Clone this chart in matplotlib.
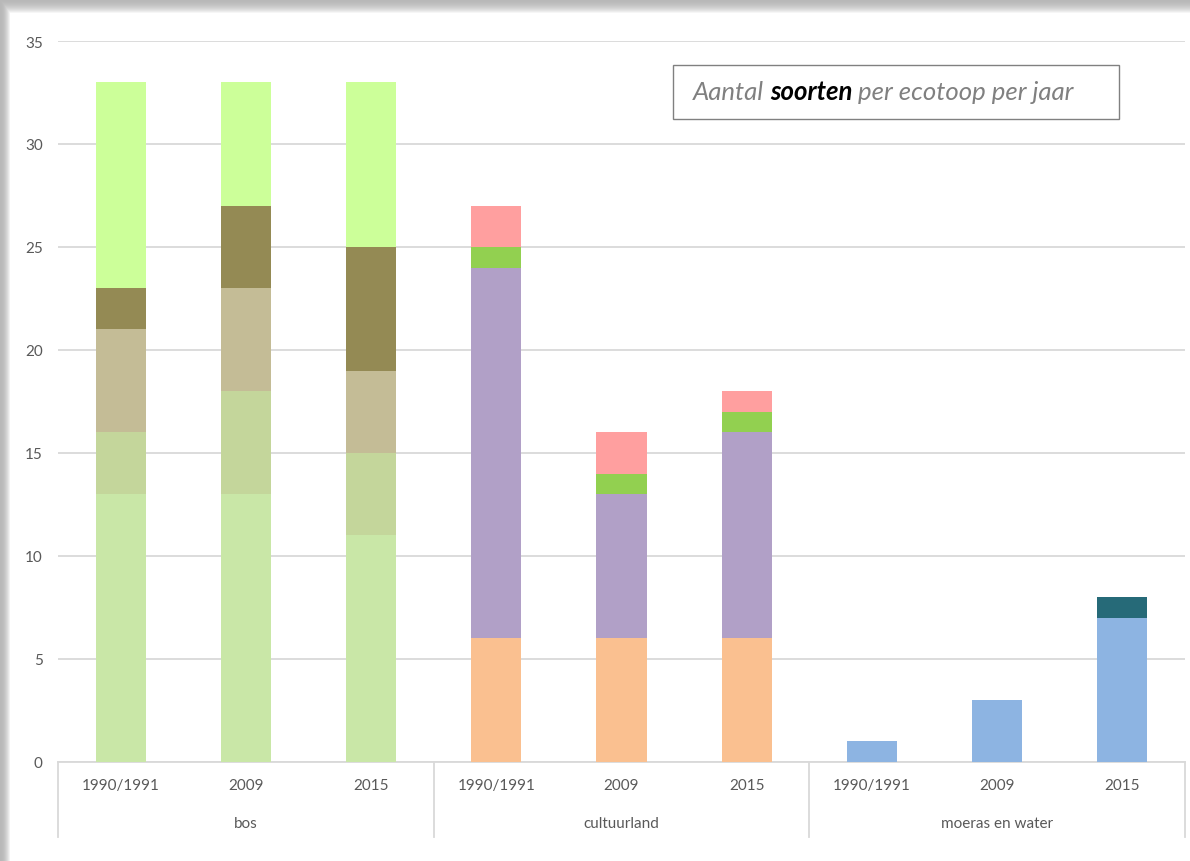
import numpy as np
import matplotlib
matplotlib.use("Agg")
from matplotlib import pyplot as plt
from matplotlib.patches import Rectangle
from matplotlib.lines import Line2D

plt.rcParams['font.family'] = ['Lato', 'DejaVu Sans']

# categories
years = ["1990/1991", "2009", "2015"] * 3
groups = ["bos", "cultuurland", "moeras en water"]

# stacked series, bottom to top (one value per bar)
bos_1 = [13, 13, 11, 0, 0, 0, 0, 0, 0]
bos_2 = [3, 5, 4, 0, 0, 0, 0, 0, 0]
bos_3 = [5, 5, 4, 0, 0, 0, 0, 0, 0]
bos_4 = [2, 4, 6, 0, 0, 0, 0, 0, 0]
bos_5 = [10, 6, 8, 0, 0, 0, 0, 0, 0]
cult_1 = [0, 0, 0, 6, 6, 6, 0, 0, 0]
cult_2 = [0, 0, 0, 18, 7, 10, 0, 0, 0]
cult_3 = [0, 0, 0, 1, 1, 1, 0, 0, 0]
cult_4 = [0, 0, 0, 2, 2, 1, 0, 0, 0]
water_1 = [0, 0, 0, 0, 0, 0, 1, 3, 7]
water_2 = [0, 0, 0, 0, 0, 0, 0, 0, 1]

series = [bos_1, bos_2, bos_3, bos_4, bos_5,
          cult_1, cult_2, cult_3, cult_4,
          water_1, water_2]
colors = ["#C9E7A7", "#C4D69B", "#C4BC96", "#948A54", "#CCFF99",
          "#FAC090", "#B1A0C7", "#92D050", "#FF9F9F",
          "#8DB4E2", "#266A78"]

W, H = 1190, 862
fig = plt.figure(figsize=(W / 100, H / 100), dpi=100)

# grey shadow along the top and left edge
bg = fig.add_axes([0, 0, 1, 1], zorder=-10)
img = np.ones((H, W))
yy, xx = np.mgrid[0:H, 0:W]
img = np.minimum(img, np.where(yy < 14, 0.72 + 0.28 * (yy / 14.0) ** 2, 1.0))
img = np.minimum(img, np.where(xx < 10, 0.72 + 0.28 * (xx / 10.0) ** 2, 1.0))
bg.imshow(img, cmap="gray", vmin=0, vmax=1, aspect="auto", interpolation="bilinear")
bg.axis("off")

ax = fig.add_axes([58 / W, (H - 763) / H, (1185 - 58) / W, (763 - 42) / H])
ax.set_facecolor("none")

x = np.arange(len(years))
bottom = np.zeros(len(years))
for vals, c in zip(series, colors):
    vals = np.array(vals, dtype=float)
    ax.bar(x, vals, width=0.4, bottom=bottom, color=c, zorder=3)
    bottom += vals

ax.set_xlim(-0.5, len(years) - 0.5)
ax.set_ylim(0, 35)
ax.set_yticks(range(0, 36, 5))
ax.yaxis.grid(True, color="#D9D9D9", lw=1.3, zorder=0)
for s in ["left", "right", "top"]:
    ax.spines[s].set_visible(False)
ax.spines["bottom"].set_color("#D9D9D9")
ax.spines["bottom"].set_linewidth(1.3)
ax.tick_params(axis="y", length=0, pad=11, labelsize=11, labelcolor="#595959")
ax.set_xticks([])

# two-level category axis
tr = ax.get_xaxis_transform()
for i, lab in enumerate(years):
    ax.text(i, -0.032, lab, transform=tr, ha="center", va="center",
            fontsize=11, color="#595959")
for g, name in enumerate(groups):
    ax.text(g * 3 + 1, -0.085, name, transform=tr, ha="center", va="center",
            fontsize=11, color="#595959")
for b in [-0.5, 2.5, 5.5, 8.5]:
    ax.add_line(Line2D([b, b], [0, -0.104], transform=tr, color="#D9D9D9",
                       lw=1.3, clip_on=False))

# title box
fig.patches.append(Rectangle((673 / W, 1 - 120 / H), (1119 - 673) / W, (120 - 66) / H,
                             transform=fig.transFigure, facecolor="white",
                             edgecolor="#808080", lw=1.0, zorder=5))
t1 = fig.text(693 / W, 1 - 93 / H, "Aantal ", fontsize=18.5, style="italic",
              color="#808080", va="center", zorder=6)
t2 = fig.text(0, 0, "soorten", fontsize=18.5, style="italic", weight="bold",
              color="black", zorder=6)
t3 = fig.text(0, 0, " per ecotoop per jaar", fontsize=18.5, style="italic",
              color="#808080", zorder=6)
fig.canvas.draw()
r = fig.canvas.get_renderer()
bb = t1.get_window_extent(r)
t2.set_position((bb.x1 / W, bb.y0 / H))
t2.set_va("bottom")
bb2 = t2.get_window_extent(r)
t3.set_position((bb2.x1 / W, bb.y0 / H))
t3.set_va("bottom")

fig.savefig("out.png", dpi=100)
